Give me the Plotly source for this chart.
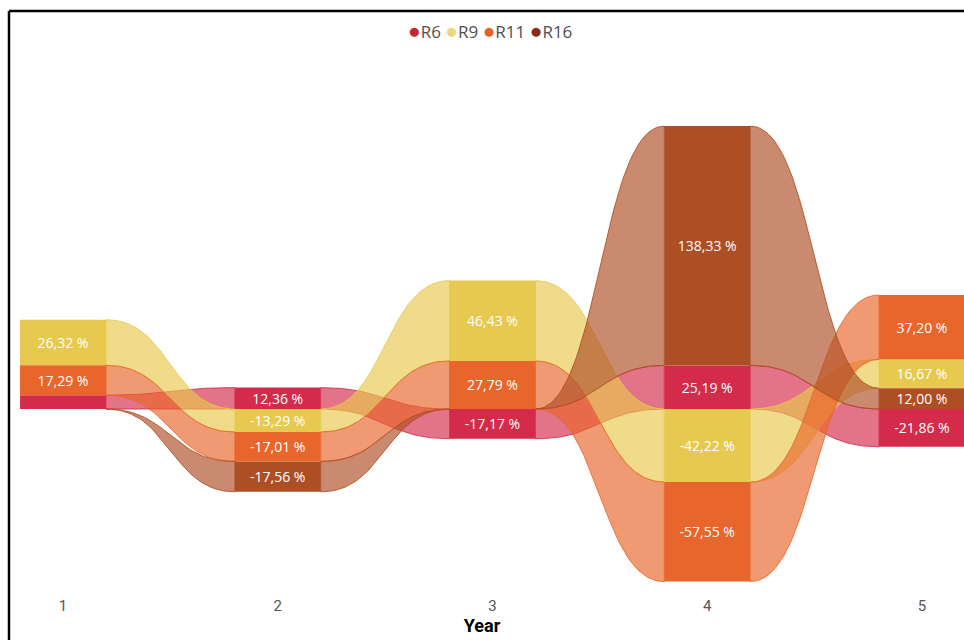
import numpy as np
import plotly.graph_objects as go

# Yearly change per region (%)
years = [1, 2, 3, 4, 5]
series_names = ["R6", "R9", "R11", "R16"]
r6 = [8.0, 12.36, -17.17, 25.19, -21.86]
r9 = [26.32, -13.29, 46.43, -42.22, 16.67]
r11 = [17.29, -17.01, 27.79, -57.55, 37.20]
r16 = [0.0, -17.56, 0.0, 138.33, 12.00]

values = {"R6": r6, "R9": r9, "R11": r11, "R16": r16}
col_colors = {"R6": "#D42B4B", "R9": "#E6C94E", "R11": "#E8662B", "R16": "#AE4E24"}
legend_colors = {"R6": "#C3272F", "R9": "#F0D57A", "R11": "#E5622A", "R16": "#8C2A1E"}

COL_W = 0.4
RIB_ALPHA = 0.66


def rgba(hex_color, a):
    h = hex_color.lstrip("#")
    r, g, b = int(h[0:2], 16), int(h[2:4], 16), int(h[4:6], 16)
    return f"rgba({r},{g},{b},{a})"


# Stack each year: largest value on top, positives above zero, negatives below
segments = {s: [] for s in series_names}
for i in range(len(years)):
    vals = [(s, values[s][i]) for s in series_names]
    pos = sorted([p for p in vals if p[1] >= 0], key=lambda p: p[1])
    neg = sorted([p for p in vals if p[1] < 0], key=lambda p: -p[1])
    seg_i = {}
    acc = 0.0
    for s, v in pos:
        seg_i[s] = (acc, acc + v)
        acc += v
    acc = 0.0
    for s, v in neg:
        seg_i[s] = (acc + v, acc)
        acc += v
    for s in series_names:
        segments[s].append(seg_i[s])


def bezier(x0, y0, x1, y1, n=60):
    t = np.linspace(0, 1, n)
    xm = (x0 + x1) / 2
    bx = (1 - t) ** 3 * x0 + 3 * (1 - t) ** 2 * t * xm + 3 * (1 - t) * t ** 2 * xm + t ** 3 * x1
    by = (1 - t) ** 3 * y0 + 3 * (1 - t) ** 2 * t * y0 + 3 * (1 - t) * t ** 2 * y1 + t ** 3 * y1
    return bx, by


fig = go.Figure()

# Ribbons between neighbouring year columns
for s in series_names:
    for i in range(len(years) - 1):
        xa = years[i] + COL_W / 2
        xb = years[i + 1] - COL_W / 2
        (ba, ta), (bb, tb) = segments[s][i], segments[s][i + 1]
        tx, ty = bezier(xa, ta, xb, tb)
        bx, by = bezier(xa, ba, xb, bb)
        px = np.concatenate([tx, bx[::-1], tx[:1]])
        py = np.concatenate([ty, by[::-1], ty[:1]])
        fig.add_trace(go.Scatter(
            x=px, y=py, mode="lines", fill="toself",
            fillcolor=rgba(col_colors[s], RIB_ALPHA),
            line=dict(color=rgba(col_colors[s], 0.85), width=1),
            hoverinfo="skip", showlegend=False,
        ))

# Year columns with value labels
for s in series_names:
    bases = [seg[0] for seg in segments[s]]
    heights = [seg[1] - seg[0] for seg in segments[s]]
    texts = [(f"{v:.2f}".replace(".", ",") + " %") if abs(v) >= 10 else "" for v in values[s]]
    fig.add_trace(go.Bar(
        x=years, y=heights, base=bases, width=COL_W,
        marker=dict(color=col_colors[s], line=dict(width=0)),
        text=texts, textposition="inside", insidetextanchor="middle",
        textangle=0, constraintext="none",
        textfont=dict(color="white", size=14, family="Open Sans, sans-serif"),
        hoverinfo="skip", showlegend=False, name=s,
    ))

# Legend line across the top
legend_html = "&nbsp;".join(
    f"<span style='color:{legend_colors[s]};font-size:21px'>●</span>{s}" for s in series_names
)
fig.add_annotation(
    x=0.508, y=1 - 30 / 588, xref="paper", yref="paper",
    text=legend_html, showarrow=False, xanchor="center", yanchor="middle",
    font=dict(size=17, color="#505050", family="Open Sans, sans-serif"),
)

# Frame lines along the top and left
fig.add_shape(type="line", xref="paper", yref="paper",
              x0=9 / 964, x1=1, y0=1 - 11 / 588, y1=1 - 11 / 588,
              line=dict(color="black", width=2.5))
fig.add_shape(type="line", xref="paper", yref="paper",
              x0=9 / 964, x1=9 / 964, y0=1 - 11 / 588, y1=1 - 640 / 588,
              line=dict(color="black", width=2.5))

px_per_unit = 214.75
x_lo = 1 - 63 / px_per_unit
x_hi = 1 + (964 - 63) / px_per_unit
py_per_pct = 1.73
y_hi = 409 / py_per_pct
y_lo = -(588 - 409) / py_per_pct

fig.update_layout(
    width=964, height=640,
    margin=dict(l=0, r=0, t=0, b=52),
    paper_bgcolor="white", plot_bgcolor="white",
    barmode="overlay",
    showlegend=False,
    xaxis=dict(
        range=[x_lo, x_hi], tickmode="array", tickvals=years,
        ticktext=[str(y) for y in years],
        showgrid=False, zeroline=False, showline=False, ticks="",
        ticklabelstandoff=7,
        tickfont=dict(size=15, color="#555555", family="Liberation Sans Narrow, Roboto, sans-serif"),
        title=dict(text="<b>Year</b>", standoff=5,
                   font=dict(size=18, color="black", family="Liberation Sans Narrow, Roboto, sans-serif")),
    ),
    yaxis=dict(range=[y_lo, y_hi], visible=False, showgrid=False, zeroline=False),
)

fig.write_html("out.html")
